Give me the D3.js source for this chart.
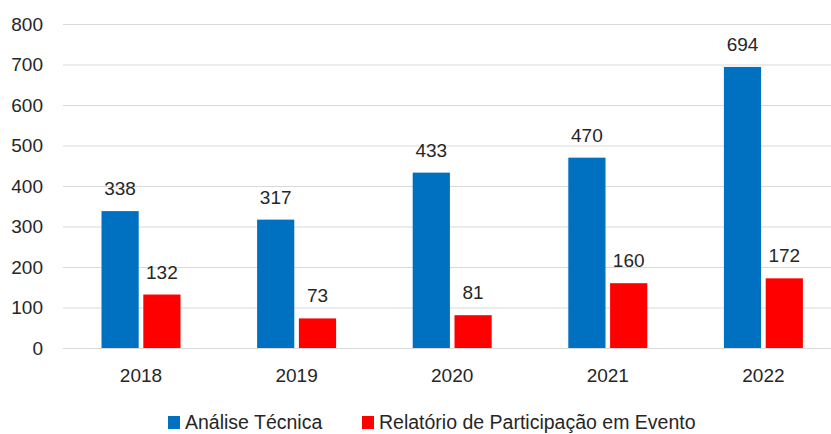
<!DOCTYPE html>
<html>
<head>
<meta charset="utf-8">
<script src="https://cdn.jsdelivr.net/npm/d3@7"></script>
<style>
  body { margin: 0; background: #fff; }
  text { font-family: "Liberation Sans", Arial, sans-serif; fill: #262626; }
</style>
</head>
<body>
<script>
// data
var years = ["2018", "2019", "2020", "2021", "2022"];
var series = ["Análise Técnica", "Relatório de Participação em Evento"];
var analise = [338, 317, 433, 470, 694];
var relatorio = [132, 73, 81, 160, 172];
var yTicks = [0, 100, 200, 300, 400, 500, 600, 700, 800];
var colors = ["#0070C0", "#FF0000"];

var width = 831, height = 434;

var svg = d3.select("body").append("svg")
  .attr("width", width)
  .attr("height", height);

// scales
var x = d3.scaleBand().domain(years).range([63, 841]).paddingInner(0).paddingOuter(0);
var x1 = d3.scaleBand().domain(series).range([38.5, 38.5 + 79]).paddingInner(0.11).paddingOuter(0);
var y = d3.scaleLinear().domain([0, 800]).range([348, 24]);

// grid lines
svg.append("g").selectAll("line")
  .data(yTicks)
  .enter().append("line")
  .attr("x1", 63).attr("x2", 831)
  .attr("y1", d => y(d) + 0.5).attr("y2", d => y(d) + 0.5)
  .attr("stroke", "#d9d9d9").attr("stroke-width", 1);

// y labels
svg.append("g").selectAll("text")
  .data(yTicks)
  .enter().append("text")
  .attr("x", 43).attr("y", d => y(d))
  .attr("dy", "0.36em")
  .attr("text-anchor", "end")
  .style("font-size", "19px")
  .text(d => d);

// bars
var rows = years.map(function(yr, i) { return { year: yr, vals: [analise[i], relatorio[i]] }; });

var groups = svg.append("g").selectAll("g")
  .data(rows)
  .enter().append("g")
  .attr("transform", d => "translate(" + x(d.year) + ",0)");

groups.selectAll("rect")
  .data(d => d.vals.map((v, j) => ({ s: series[j], v: v, j: j })))
  .enter().append("rect")
  .attr("x", d => x1(d.s))
  .attr("width", x1.bandwidth())
  .attr("y", d => y(d.v))
  .attr("height", d => y(0) - y(d.v))
  .attr("fill", d => colors[d.j]);

groups.selectAll("text.val")
  .data(d => d.vals.map((v, j) => ({ s: series[j], v: v, j: j })))
  .enter().append("text")
  .attr("class", "val")
  .attr("x", d => x1(d.s) + x1.bandwidth() / 2)
  .attr("y", d => y(d.v) - 16)
  .attr("text-anchor", "middle")
  .style("font-size", "19px")
  .text(d => d.v);

// x labels
svg.append("g").selectAll("text")
  .data(years)
  .enter().append("text")
  .attr("x", d => x(d) + 78)
  .attr("y", 382)
  .attr("text-anchor", "middle")
  .style("font-size", "19px")
  .text(d => d);

// legend
var legX = [168, 362];
var leg = svg.append("g").selectAll("g")
  .data(series)
  .enter().append("g")
  .attr("transform", (d, i) => "translate(" + legX[i] + ",416)");

leg.append("rect")
  .attr("width", 12).attr("height", 13)
  .attr("fill", (d, i) => colors[i]);

leg.append("text")
  .attr("x", 17).attr("y", 13)
  .style("font-size", "19.5px")
  .text(d => d);
</script>
</body>
</html>
